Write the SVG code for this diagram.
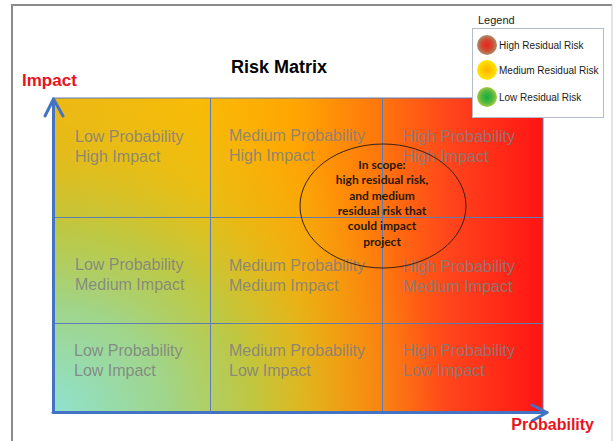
<svg xmlns="http://www.w3.org/2000/svg" width="615" height="441" viewBox="0 0 615 441">
  <defs>
    <!-- base left-to-right risk ramp: yellow to red -->
    <linearGradient id="ramp" gradientUnits="userSpaceOnUse" x1="53" y1="0" x2="543" y2="0">
      <stop offset="0" stop-color="#efb812"/>
      <stop offset="0.3" stop-color="#f9bb05"/>
      <stop offset="0.5" stop-color="#ffa402"/>
      <stop offset="0.66" stop-color="#ff780c"/>
      <stop offset="0.82" stop-color="#ff421c"/>
      <stop offset="1" stop-color="#ff1414"/>
    </linearGradient>
    <!-- green wash rising from the low/low corner -->
    <radialGradient id="greenWash" gradientUnits="userSpaceOnUse" cx="53" cy="412" r="350" gradientTransform="translate(53 412) scale(1.1 1) translate(-53 -412)">
      <stop offset="0" stop-color="#8fe2d0" stop-opacity="1"/>
      <stop offset="0.3" stop-color="#9cd690" stop-opacity="0.95"/>
      <stop offset="0.52" stop-color="#b0cc50" stop-opacity="0.8"/>
      <stop offset="0.75" stop-color="#d0c22a" stop-opacity="0.35"/>
      <stop offset="1" stop-color="#e8bc18" stop-opacity="0"/>
    </radialGradient>
    <radialGradient id="lgHigh" cx="0.5" cy="0.5" r="0.5">
      <stop offset="0" stop-color="#f02020"/>
      <stop offset="0.55" stop-color="#d04a30"/>
      <stop offset="1" stop-color="#a88e6a"/>
    </radialGradient>
    <radialGradient id="lgMed" cx="0.5" cy="0.5" r="0.5">
      <stop offset="0" stop-color="#ffb000"/>
      <stop offset="1" stop-color="#ffe600"/>
    </radialGradient>
    <radialGradient id="lgLow" cx="0.5" cy="0.5" r="0.5">
      <stop offset="0" stop-color="#10b040"/>
      <stop offset="0.6" stop-color="#50b840"/>
      <stop offset="1" stop-color="#a8c840"/>
    </radialGradient>
  </defs>
  <style>
    .cell { font-family: "Liberation Sans", Arial, sans-serif; font-size: 16px; fill: #7f7f7f; fill-opacity: 0.85; }
    .axisLabel { font-family: "Liberation Sans", Arial, sans-serif; font-weight: bold; fill: #e8141c; }
    .grid { stroke: #5f7cb4; stroke-width: 1; fill: none; }
    .axis { stroke: #4472c4; stroke-width: 3; fill: none; stroke-linecap: round; stroke-linejoin: round; }
    .legendText { font-family: "Liberation Sans", Arial, sans-serif; font-size: 10px; fill: #1a1a1a; }
    .scope { font-family: Lato, "Liberation Sans", sans-serif; font-weight: bold; font-size: 12px; fill: #2a1808; text-anchor: middle; }
  </style>

  <rect width="615" height="441" fill="#ffffff"/>

  <!-- page frame -->
  <g id="frame">
    <line x1="12" y1="5" x2="612" y2="5" stroke="#8c8c8c" stroke-width="2"/>
    <line x1="12" y1="4" x2="12" y2="441" stroke="#8c8c8c" stroke-width="2"/>
    <line x1="612" y1="5" x2="612" y2="441" stroke="#c8c8c8" stroke-width="1"/>
  </g>

  <!-- coloured matrix field -->
  <g id="matrix">
    <rect x="53" y="98" width="490" height="314" fill="url(#ramp)"/>
    <rect x="53" y="98" width="490" height="314" fill="url(#greenWash)"/>
    <rect x="53" y="98" width="490" height="314" class="grid"/>
    <line x1="210.5" y1="98" x2="210.5" y2="412" class="grid"/>
    <line x1="382.5" y1="98" x2="382.5" y2="412" class="grid"/>
    <line x1="53" y1="217.5" x2="543" y2="217.5" class="grid"/>
    <line x1="53" y1="323.5" x2="543" y2="323.5" class="grid"/>
  </g>

  <!-- cell captions -->
  <g id="cell-low-high"><text class="cell" x="75" y="142">Low Probability</text><text class="cell" x="75" y="162">High Impact</text></g>
  <g id="cell-med-high"><text class="cell" x="229" y="141">Medium Probability</text><text class="cell" x="229" y="161">High Impact</text></g>
  <g id="cell-high-high"><text class="cell" x="403" y="142">High Probability</text><text class="cell" x="403" y="162">High Impact</text></g>
  <g id="cell-low-med"><text class="cell" x="75" y="270">Low Probability</text><text class="cell" x="75" y="290">Medium Impact</text></g>
  <g id="cell-med-med"><text class="cell" x="229" y="271">Medium Probability</text><text class="cell" x="229" y="291">Medium Impact</text></g>
  <g id="cell-high-med"><text class="cell" x="403" y="272">High Probability</text><text class="cell" x="403" y="292">Medium Impact</text></g>
  <g id="cell-low-low"><text class="cell" x="74" y="356">Low Probability</text><text class="cell" x="74" y="376">Low Impact</text></g>
  <g id="cell-med-low"><text class="cell" x="229" y="356">Medium Probability</text><text class="cell" x="229" y="376">Low Impact</text></g>
  <g id="cell-high-low"><text class="cell" x="403" y="356">High Probability</text><text class="cell" x="403" y="376">Low Impact</text></g>

  <!-- scope ellipse -->
  <g id="scope">
    <ellipse cx="383" cy="206" rx="83" ry="62" fill="none" stroke="#3a2010" stroke-width="1"/>
    <text class="scope" x="382" y="169">In scope:</text>
    <text class="scope" x="382" y="184">high residual risk,</text>
    <text class="scope" x="382" y="200">and medium</text>
    <text class="scope" x="382" y="215">residual risk that</text>
    <text class="scope" x="382" y="230">could impact</text>
    <text class="scope" x="382" y="246">project</text>
  </g>

  <!-- axes -->
  <g id="connectors">
    <path class="axis" d="M53.5 412 V99"/>
    <path class="axis" d="M45 116 L53.5 99 L63 116"/>
    <path class="axis" d="M53 412.5 H547"/>
    <path class="axis" d="M532 405 L547 412.5 L532 421"/>
  </g>

  <!-- titles -->
  <g id="title">
    <text x="279" y="73" text-anchor="middle" font-family="'Liberation Sans', Arial, sans-serif" font-weight="bold" font-size="18" fill="#000">Risk Matrix</text>
  </g>
  <g id="impact-label"><text class="axisLabel" x="22" y="86" font-size="17">Impact</text></g>
  <g id="probability-label"><text class="axisLabel" x="594" y="430" font-size="16" text-anchor="end">Probability</text></g>

  <!-- legend -->
  <g id="legend">
    <text x="478" y="24" font-family="'Liberation Sans', Arial, sans-serif" font-size="11" fill="#1a1a1a">Legend</text>
    <rect x="472.5" y="28.5" width="131" height="89" fill="#ffffff" stroke="#b4bccb" stroke-width="1"/>
    <circle cx="487" cy="45" r="10" fill="url(#lgHigh)"/>
    <text class="legendText" x="499" y="48.5">High Residual Risk</text>
    <circle cx="487" cy="70" r="10" fill="url(#lgMed)"/>
    <text class="legendText" x="499" y="73.5">Medium Residual Risk</text>
    <circle cx="487" cy="97" r="10" fill="url(#lgLow)"/>
    <text class="legendText" x="499" y="100.5">Low Residual Risk</text>
  </g>
</svg>
